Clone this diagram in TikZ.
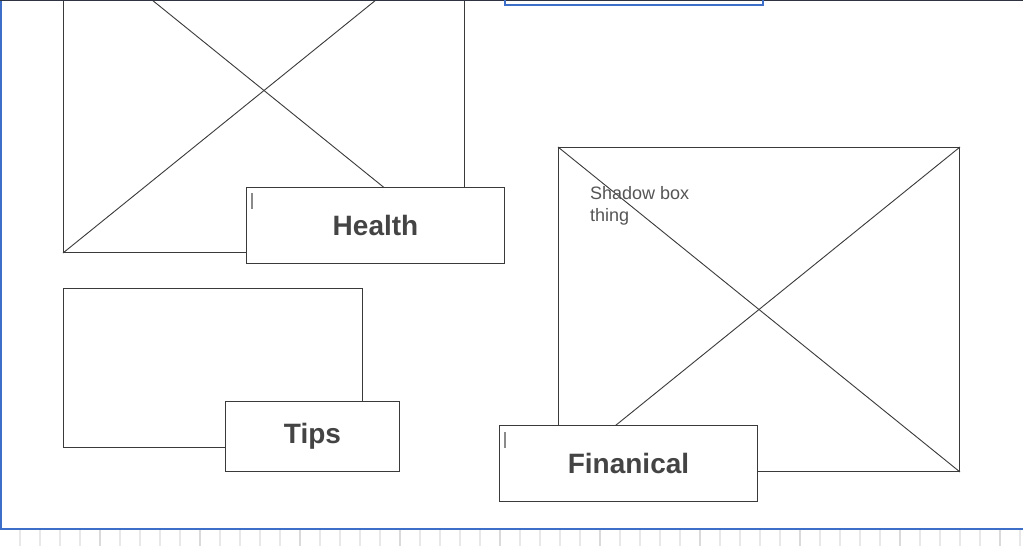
\documentclass[tikz,border=0pt]{standalone}
\usepackage{fontspec}
\setmainfont{Liberation Sans}
\definecolor{linegray}{HTML}{3A3A3A}
\definecolor{textgray}{HTML}{444444}
\definecolor{notegray}{HTML}{555555}
\definecolor{caretgray}{HTML}{8A8A8A}
\definecolor{selblue}{HTML}{3D6FC8}
\definecolor{tickgray}{HTML}{E8E8E8}
\definecolor{tickdark}{HTML}{DADADA}
\definecolor{topedge}{HTML}{2F3440}
\begin{document}
\begin{tikzpicture}[x=1pt,y=-1pt,
  frame/.style={draw=linegray, line width=1pt, inner sep=0pt, anchor=north west},
  imagebox/.style={frame},
  titlebox/.style={frame, fill=white, text=textgray,
    font=\bfseries\fontsize{28}{34}\selectfont},
  cross/.style={draw=linegray, line width=0.9pt},
  caret/.style={draw=caretgray, line width=1.8pt},
  note/.style={anchor=north west, inner sep=0pt, text=notegray, align=left,
    font=\fontsize{18}{22}\selectfont},
  tick/.style={draw=tickgray, line width=1.3pt},
  majortick/.style={draw=tickdark, line width=1.3pt}]
\useasboundingbox (0,0) rectangle (1023,546);
\fill[white] (0,0) rectangle (1023,546);
\begin{scope}
\clip (0,0) rectangle (1023,546);

% ruler along the bottom
\foreach \i in {1,...,51} {
  \pgfmathtruncatemacro{\tx}{20*\i}
  \ifnum\numexpr\tx-100*(\tx/100)\relax=0
    \draw[majortick] (\tx,530) -- (\tx,546);
  \else
    \draw[tick] (\tx,530) -- (\tx,546);
  \fi
}

% health image placeholder
\node[imagebox, minimum width=401, minimum height=324] (himg) at (63,-72) {};
\draw[cross] (himg.north west) -- (himg.south east);
\draw[cross] (himg.south west) -- (himg.north east);
\node[titlebox, minimum width=258, minimum height=76] (health) at (246,187) {Health};
\draw[caret] ([shift={(6,6)}]health.north west) -- ++(0,16);

% tips panel
\node[imagebox, minimum width=299, minimum height=159] (timg) at (63,288) {};
\node[titlebox, minimum width=174, minimum height=70] (tips) at (225,401) {\raisebox{-2pt}{Tips}};

% financial image placeholder
\node[imagebox, minimum width=401, minimum height=324] (fimg) at (558,147) {};
\draw[cross] (fimg.north west) -- (fimg.south east);
\draw[cross] (fimg.south west) -- (fimg.north east);
\node[note] (shadow) at (590,186) {Shadow box\\thing};
\node[titlebox, minimum width=258, minimum height=76] (fin) at (499,425) {Finanical};
\draw[caret] ([shift={(6,7)}]fin.north west) -- ++(0,16);

% selection frame of the page
\coordinate (ptl) at (0.8,0);
\coordinate (pbl) at (0.8,529);
\coordinate (pbr) at (1023,529);
\draw[selblue, line width=1.6pt] (ptl) -- (pbl) -- (pbr);
\draw[topedge, line width=1.6pt] (0,0.5) -- (1023,0.5);
\node[draw=selblue, line width=1.5pt, inner sep=0pt, anchor=north west,
  minimum width=258, minimum height=10] (topsel) at (504,-6) {};
\end{scope}
\end{tikzpicture}
\end{document}
